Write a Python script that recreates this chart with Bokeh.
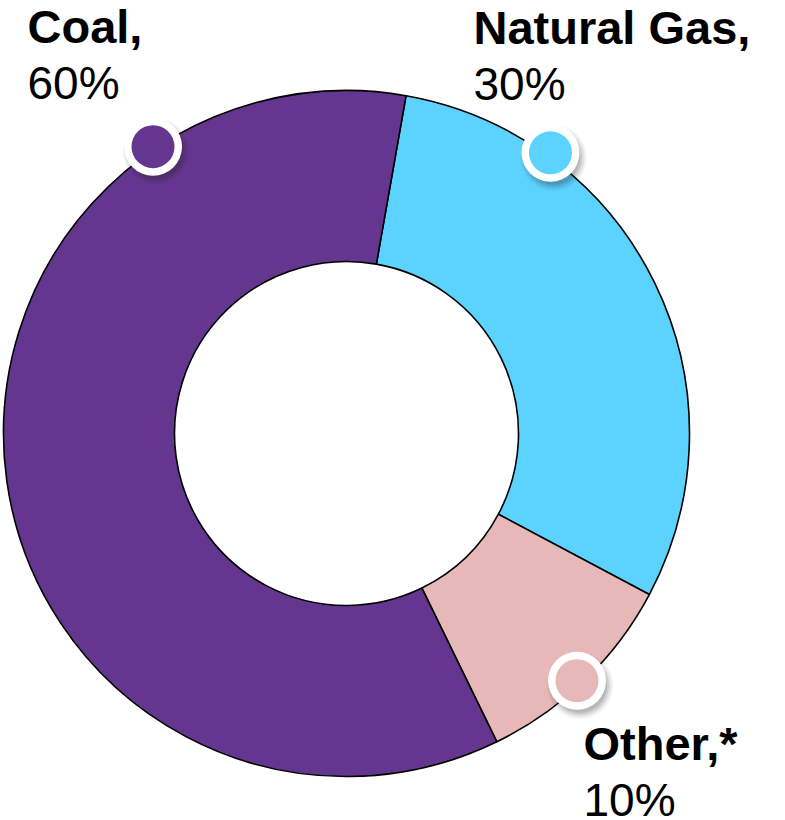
import numpy as np
from bokeh.plotting import figure
from bokeh.models import Range1d, ColumnDataSource
from bokeh.core.properties import value
from bokeh.embed import file_html
from bokeh.resources import INLINE

# Share of generation by source (percent), listed clockwise from the ring's start
sources = ["Natural Gas", "Other", "Coal"]
shares = [30, 10, 60]
name_labels = ["Natural Gas,", "Other,*", "Coal,"]
pct_labels = ["30%", "10%", "60%"]
colors = ["#5CD3FF", "#E6B8B8", "#65368F"]

W, H = 785, 820
CX, CY = 346, H - 433          # ring centre
R_OUT, R_IN = 343, 172
START_DEG = 10                  # first slice begins 10 degrees clockwise of 12 o'clock

# marker positions on the outer edge (degrees clockwise from 12 o'clock)
marker_deg = [36, 137, 326]
marker_dist = [347, 338, 346]
# label anchors (left x, baseline y of first line, from top)
label_x = [473, 583, 27]
label_y = [27, 743, 26]
LINE_GAP = 56

p = figure(width=W, height=H, output_backend="svg", toolbar_location=None,
           x_range=Range1d(0, W), y_range=Range1d(0, H), min_border=0)
p.axis.visible = False
p.grid.visible = False
p.outline_line_color = None
p.background_fill_color = "white"
p.border_fill_color = "white"

# wedge angles: convert clockwise-from-top to bokeh's counter-clockwise-from-x
cum = np.cumsum([0] + shares)
total = cum[-1]
start_cw = START_DEG + 360 * cum[:-1] / total
end_cw = START_DEG + 360 * cum[1:] / total
start_ang = np.radians(90 - start_cw)
end_ang = np.radians(90 - end_cw)

ring = ColumnDataSource(dict(x=[CX] * 3, y=[CY] * 3, s=start_ang, e=end_ang,
                             color=colors, name=sources))
p.annular_wedge(x="x", y="y", inner_radius=R_IN, outer_radius=R_OUT,
                start_angle="s", end_angle="e", direction="clock",
                fill_color="color", line_color="black", line_width=1.6, source=ring)

# callout dots with a soft drop shadow
th = np.radians(marker_deg)
mx = CX + np.array(marker_dist) * np.sin(th)
my = CY + np.array(marker_dist) * np.cos(th)
for k, a in enumerate([0.06, 0.08, 0.10, 0.12]):
    p.circle(x=mx + 3, y=my - 5, radius=33 - 2 * k, fill_color="#202020",
             fill_alpha=a, line_color=None)
p.circle(x=mx, y=my, radius=29, fill_color="white", line_color=None)
p.circle(x=mx, y=my, radius=21.5, fill_color=colors, line_color=None)

lx = np.array(label_x)
ly = H - np.array(label_y)
p.text(x=lx, y=ly, text=name_labels, text_font=value("Liberation Sans"),
       text_font_size="47px", text_font_style="bold", text_color="black",
       text_baseline="alphabetic", text_align="left")
p.text(x=lx, y=ly - LINE_GAP, text=pct_labels, text_font=value("Liberation Sans"),
       text_font_size="46px", text_color="black",
       text_baseline="alphabetic", text_align="left")

open("out.html", "w").write(file_html(p, INLINE))
